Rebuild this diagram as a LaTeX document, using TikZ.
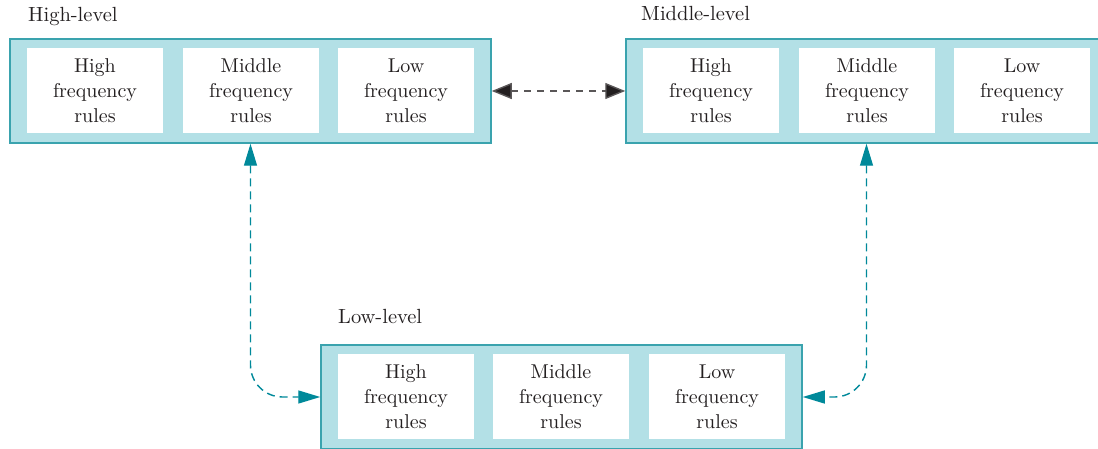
\documentclass[tikz,border=0pt]{standalone}
\usepackage{fontspec}
\setmainfont{lmroman10-regular.otf}
\usetikzlibrary{arrows.meta}
\definecolor{panelfill}{HTML}{B3E0E6}
\definecolor{panelline}{HTML}{3AA3AE}
\definecolor{linkteal}{HTML}{00899A}
\definecolor{linkdark}{HTML}{231F20}
\begin{document}
\begin{tikzpicture}[x=1pt,y=-1pt,
  panel/.style={draw=panelline, fill=panelfill, line width=1.5pt,
    minimum width=481pt, minimum height=104pt, inner sep=0pt},
  rulebox/.style={fill=white, minimum width=136pt, minimum height=85pt,
    inner sep=0pt, align=center, text=linkdark, font=\fontsize{20}{25}\selectfont},
  levelname/.style={anchor=base west, inner sep=0pt, text=linkdark, font=\fontsize{20.5}{24}\selectfont},
  tealink/.style={draw=linkteal, line width=1.4pt, dash pattern=on 8pt off 5pt,
    {Triangle[length=22pt,width=13pt]}-{Triangle[length=22pt,width=13pt]},
    rounded corners=32pt},
  darklink/.style={draw=linkdark!75, line width=1.4pt, dash pattern=on 7pt off 6pt,
    {Triangle[length=20pt,width=16pt,fill=linkdark]}-{Triangle[length=20pt,width=16pt,fill=linkdark]}}
]
\useasboundingbox (0,0) rectangle (1098,449);

% High-level group
\node[levelname] (hlname) at (28,22) {High-level};
\node[panel] (hl) at (250.5,91) {};
\node[rulebox] (hl1) at (95,91) {High\\frequency\\rules};
\node[rulebox] (hl2) at (251,91) {Middle\\frequency\\rules};
\node[rulebox] (hl3) at (406,91) {Low\\frequency\\rules};

% Middle-level group
\node[levelname] (mlname) at (641,21) {Middle-level};
\node[panel] (ml) at (866.5,91) {};
\node[rulebox] (ml1) at (711,91) {High\\frequency\\rules};
\node[rulebox] (ml2) at (867,91) {Middle\\frequency\\rules};
\node[rulebox] (ml3) at (1022,91) {Low\\frequency\\rules};

% Low-level group
\node[levelname] (llname) at (338,323) {Low-level};
\node[panel] (ll) at (561.5,397) {};
\node[rulebox] (ll1) at (406,396.5) {High\\frequency\\rules};
\node[rulebox] (ll2) at (561,396.5) {Middle\\frequency\\rules};
\node[rulebox] (ll3) at (717,396.5) {Low\\frequency\\rules};

% Connections between levels
\draw[darklink] (hl.east) -- (ml.west);
\draw[tealink] (hl.south) |- (ll.west);
\draw[tealink] (ml.south) |- (ll.east);
\end{tikzpicture}
\end{document}
